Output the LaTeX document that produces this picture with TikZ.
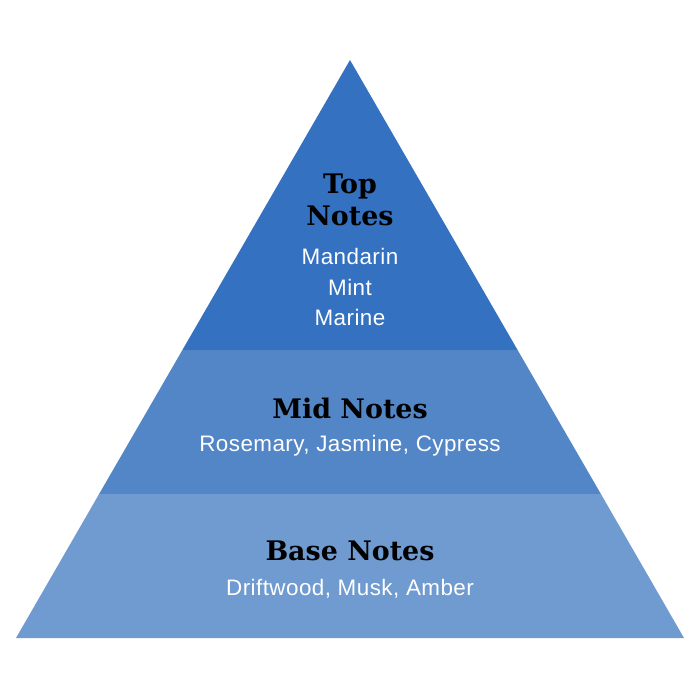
\documentclass[tikz,border=0pt]{standalone}
\usepackage{fontspec}
\setmainfont{Liberation Sans}[LetterSpace=2]
\newfontfamily\headfont{DejaVu Serif}
\definecolor{topblue}{HTML}{3471C0}
\definecolor{midblue}{HTML}{5286C7}
\definecolor{baseblue}{HTML}{6F9BD0}
\tikzset{
  band/.style={draw=none},
  headtext/.style={font=\headfont\bfseries\fontsize{27}{32}\selectfont, text=black, inner sep=0pt, align=center},
  itemtext/.style={font=\fontsize{22.5}{31}\selectfont, text=white, inner sep=0pt, align=center}
}
\begin{document}
\begin{tikzpicture}[x=1bp,y=-1bp]
\useasboundingbox (0,0) rectangle (700,700);
% pyramid geometry
\coordinate (apex) at (350,60);
\coordinate (bl) at (16,638);
\coordinate (br) at (684,638);
\fill[band, topblue] (apex) -- (182.4,350) -- (517.6,350) -- cycle;
\fill[band, midblue] (182.4,350) -- (99.1,494) -- (600.9,494) -- (517.6,350) -- cycle;
\fill[band, baseblue] (99.1,494) -- (bl) -- (br) -- (600.9,494) -- cycle;
% texts
\node[headtext] (tophead) at (350,200) {Top\\Notes};
\node[itemtext] (topitems) at (350,287) {Mandarin\\Mint\\Marine};
\node[headtext] (midhead) at (350,408) {Mid Notes};
\node[itemtext] (miditems) at (350,445.5) {Rosemary, Jasmine, Cypress};
\node[headtext] (basehead) at (350,551) {Base Notes};
\node[itemtext] (baseitems) at (350,589) {Driftwood, Musk, Amber};
\end{tikzpicture}
\end{document}
